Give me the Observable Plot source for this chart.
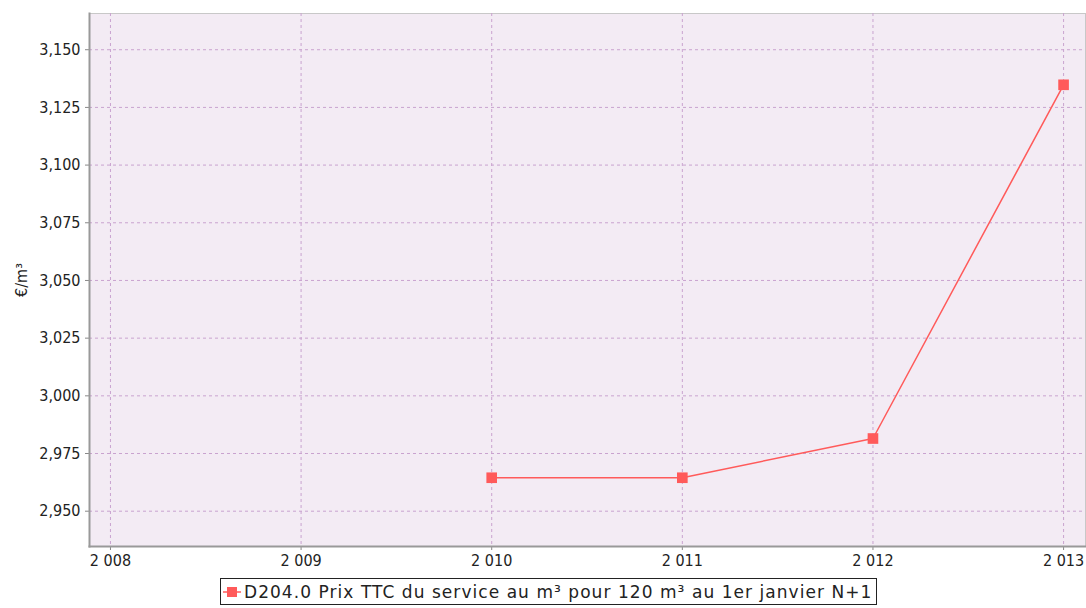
<!DOCTYPE html>
<html>
<head>
<meta charset="utf-8">
<script src="https://cdn.jsdelivr.net/npm/d3@7"></script>
<script src="https://cdn.jsdelivr.net/npm/@observablehq/plot@0.6"></script>
<style>
  html, body { margin: 0; padding: 0; background: #fff; font-family: "DejaVu Sans", sans-serif; }
  #chart svg { display: block; }
  #legend {
    margin: 6px 0 0 220px; width: 657px; height: 27px;
    border: 1px solid #222; box-sizing: border-box; background: #fff;
    display: flex; align-items: center; font-size: 17px; letter-spacing: 1.05px; color: #222; white-space: nowrap; overflow: hidden;
  }
  #legend svg { margin: 0 2px 0 1px; flex: none; }
</style>
</head>
<body>
<div id="chart"></div>
<div id="legend"></div>
<script>
const years = [2010, 2011, 2012, 2013];
const prices = [2.9645, 2.9645, 2.9815, 3.1348];
const xTicks = [2008, 2009, 2010, 2011, 2012, 2013];
const yTicks = [2.950, 2.975, 3.000, 3.025, 3.050, 3.075, 3.100, 3.125, 3.150];
const seriesName = "D204.0 Prix TTC du service au m³ pour 120 m³ au 1er janvier N+1";
const yLabel = "€/m³";

const data = years.map((y, i) => ({year: y, price: prices[i]}));
const loc = d3.formatLocale({decimal: ",", thousands: "\u00a0", grouping: [3], currency: ["", " €"]});
const fx = loc.format(",d");
const fy = loc.format(".3f");
const lineColor = "#ff5a5a";
const gridColor = "#c9a3cf";
const axisFont = "'DejaVu Sans Condensed', 'Liberation Sans', sans-serif";

const chart = Plot.plot({
  width: 1086,
  height: 572,
  marginTop: 13,
  marginLeft: 89,
  marginRight: 1,
  marginBottom: 26,
  style: {fontFamily: axisFont, fontSize: "16px", color: "#222", background: "#fff"},
  x: {domain: [2007.89, 2013.115], label: null},
  y: {domain: [2.9347, 3.1657], label: null},
  marks: [
    Plot.frame({fill: "#f3ebf4", stroke: "#c8c8c8"}),
    Plot.gridX(xTicks, {stroke: gridColor, strokeOpacity: 1, strokeDasharray: "3,3"}),
    Plot.gridY(yTicks, {stroke: gridColor, strokeOpacity: 1, strokeDasharray: "3,3"}),
    Plot.axisX({ticks: xTicks, tickFormat: fx, tickSize: 4, tickPadding: 4, stroke: "#888", label: null, fontSize: 16}),
    Plot.axisY({ticks: yTicks, tickFormat: fy, tickSize: 4, tickPadding: 5, stroke: "#888", fontSize: 16,
      label: yLabel, labelAnchor: "center", labelArrow: "none", labelOffset: 74}),
    Plot.frame({anchor: "left", stroke: "#999", strokeWidth: 2}),
    Plot.frame({anchor: "bottom", stroke: "#999", strokeWidth: 2}),
    Plot.line(data, {x: "year", y: "price", stroke: lineColor, strokeWidth: 1.5}),
    Plot.dot(data, {x: "year", y: "price", symbol: "square", r: 6, fill: lineColor, stroke: "none"})
  ]
});
document.getElementById("chart").appendChild(chart);

const legend = document.getElementById("legend");
legend.innerHTML = `<svg width="20" height="12"><line x1="1" y1="6" x2="19" y2="6" stroke="${lineColor}" stroke-width="1.5"/><rect x="5" y="1" width="10" height="10" fill="${lineColor}"/></svg><span></span>`;
legend.querySelector("span").textContent = seriesName;
</script>
</body>
</html>
